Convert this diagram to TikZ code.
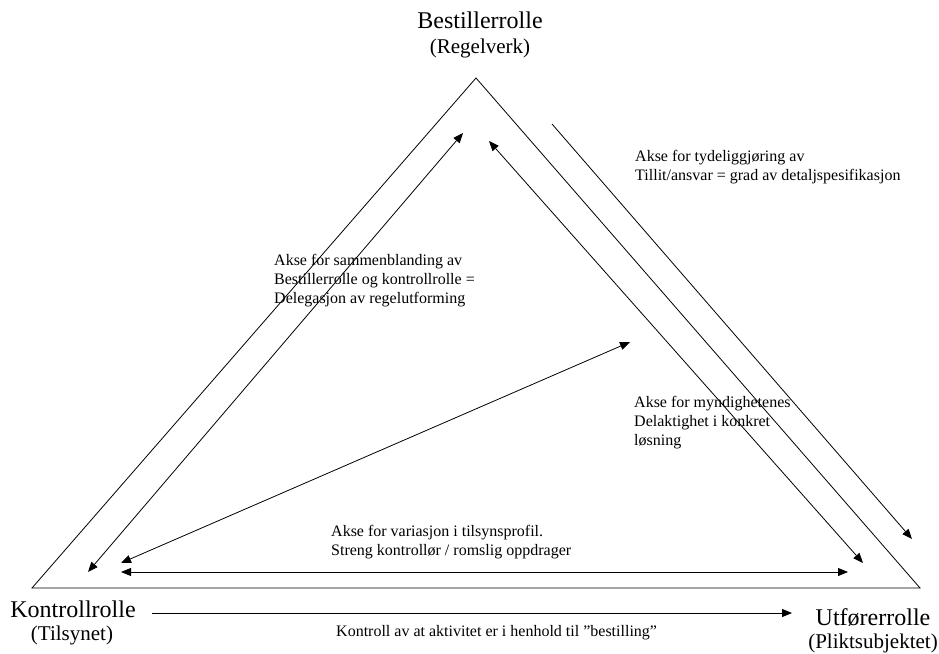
\documentclass[tikz,border=0pt]{standalone}
\usepackage{fontspec}
\setmainfont{Liberation Serif}
\usetikzlibrary{arrows.meta}
\begin{document}
\begin{tikzpicture}[x=1pt,y=-1pt,
  axis/.style={line width=0.8pt,-{Triangle[length=10pt,width=8pt]}},
  biaxis/.style={line width=0.8pt,{Triangle[length=10pt,width=8pt]}-{Triangle[length=10pt,width=8pt]}},
  rolename/.style={inner sep=0pt,anchor=base,font=\fontsize{24}{24}\selectfont},
  rolesub/.style={inner sep=0pt,anchor=base,font=\fontsize{21}{24}\selectfont},
  note/.style={inner sep=0pt,anchor=base west,align=left,font=\fontsize{16}{19}\selectfont}]
\useasboundingbox (0,0) rectangle (939,653);

% corners of the triangle
\coordinate (top) at (476,78);
\coordinate (left) at (32,588);
\coordinate (right) at (920,588);
\draw[line width=0.8pt,line join=miter] (top) -- (left) -- (right) -- cycle;

% end points of the axes
\coordinate (la1) at (88,572);   \coordinate (la2) at (463,133);
\coordinate (ia1) at (121,563);  \coordinate (ia2) at (630,342);
\coordinate (ra1) at (489,141);  \coordinate (ra2) at (863,563);
\coordinate (oa1) at (552,124);  \coordinate (oa2) at (912,539);
\coordinate (ba1) at (121,572);  \coordinate (ba2) at (848,572);
\coordinate (ka1) at (152,613);  \coordinate (ka2) at (792,613);

\draw[biaxis] (la1) -- (la2);
\draw[biaxis] (ia1) -- (ia2);
\draw[biaxis] (ra1) -- (ra2);
\draw[axis] (oa1) -- (oa2);
\draw[biaxis] (ba1) -- (ba2);
\draw[axis] (ka1) -- (ka2);

% role names at the corners
\node[rolename] (bestiller) at (480,28) {Bestillerrolle};
\node[rolesub] (regelverk) at (480,53) {(Regelverk)};
\node[rolename] (kontroll) at (73,617) {Kontrollrolle};
\node[rolesub] (tilsynet) at (72,640) {(Tilsynet)};
\node[rolename] (utforer) at (873,625) {Utførerrolle};
\node[rolesub] (plikt) at (873,648) {(Pliktsubjektet)};

% axis descriptions (placed by the baseline of their last line)
\node[note] (tydelig) at (635,180) {Akse for tydeliggjøring av\\Tillit/ansvar = grad av detaljspesifikasjon};
\node[note] (sammen) at (274,303) {Akse for sammenblanding av\\Bestillerrolle og kontrollrolle =\\Delegasjon av regelutforming};
\node[note] (myndig) at (634,445) {Akse for myndighetenes\\Delaktighet i konkret\\løsning};
\node[note] (variasjon) at (331,555) {Akse for variasjon i tilsynsprofil.\\Streng kontrollør / romslig oppdrager};
\node[note] (bestilling) at (336,636) {Kontroll av at aktivitet er i henhold til ”bestilling”};
\end{tikzpicture}
\end{document}
